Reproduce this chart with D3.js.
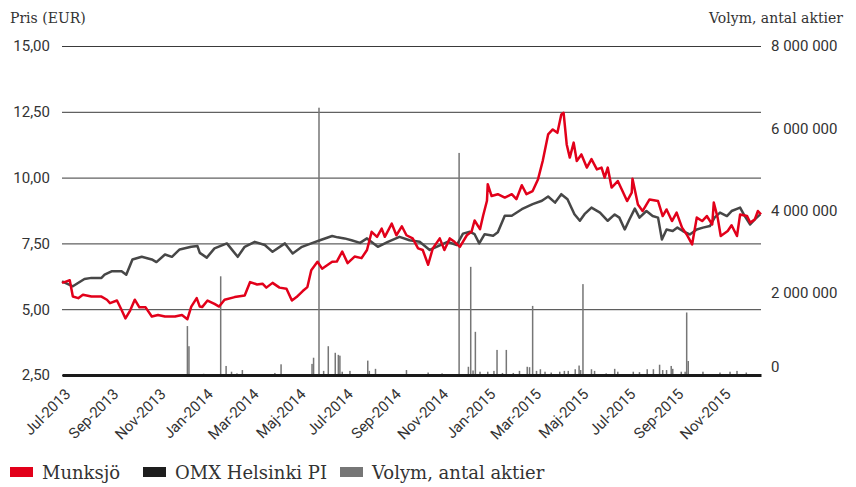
<!DOCTYPE html>
<html lang="sv">
<head>
  <meta charset="UTF-8">
  <title>Munksjö</title>
  <style>
    body { margin: 0; background: #fff; }
  </style>
</head>
<body>

  <svg id="svg" width="856" height="487"></svg>

  <script src="https://d3js.org/d3.v7.min.js"></script>
  <script>

    // Munksjö, pris (EUR)
    const munksjo = [
      ['2013-07-01',6.00],['2013-07-06',6.05],['2013-07-11',6.10],['2013-07-15',5.48],['2013-07-22',5.42],['2013-07-28',5.55],
      ['2013-08-08',5.48],['2013-08-21',5.48],['2013-08-28',5.36],['2013-09-01',5.23],['2013-09-10',5.33],['2013-09-16',4.97],
      ['2013-09-21',4.65],['2013-09-27',4.95],['2013-10-03',5.36],['2013-10-09',5.07],['2013-10-17',5.07],['2013-10-25',4.72],
      ['2013-11-02',4.78],['2013-11-11',4.72],['2013-11-24',4.72],['2013-12-03',4.78],['2013-12-10',4.62],['2013-12-15',5.10],
      ['2013-12-22',5.42],['2013-12-26',5.10],['2013-12-29',5.08],['2014-01-05',5.33],['2014-01-14',5.20],['2014-01-20',5.10],
      ['2014-01-27',5.36],['2014-02-09',5.46],['2014-02-22',5.52],['2014-03-01',6.03],['2014-03-10',5.94],['2014-03-17',5.97],
      ['2014-03-22',5.82],['2014-03-30',6.00],['2014-04-08',5.82],['2014-04-17',5.78],['2014-04-24',5.33],['2014-04-30',5.46],
      ['2014-05-08',5.69],['2014-05-14',5.84],['2014-05-19',6.48],['2014-05-27',6.80],['2014-06-02',6.54],['2014-06-15',6.80],
      ['2014-06-21',6.81],['2014-06-28',7.19],['2014-07-05',6.75],['2014-07-14',7.00],['2014-07-23',6.94],['2014-07-30',7.25],
      ['2014-08-05',7.94],['2014-08-12',7.75],['2014-08-18',8.06],['2014-08-22',7.75],['2014-08-31',8.25],['2014-09-06',7.81],
      ['2014-09-13',8.15],['2014-09-19',7.81],['2014-09-27',7.69],['2014-10-04',7.31],['2014-10-10',7.25],['2014-10-17',6.69],
      ['2014-10-23',7.31],['2014-11-01',7.69],['2014-11-07',7.25],['2014-11-14',7.69],['2014-11-20',7.56],['2014-11-27',7.37],
      ['2014-12-06',7.81],['2014-12-12',7.94],['2014-12-16',8.37],['2014-12-23',8.04],['2014-12-27',8.55],['2015-01-01',9.12],
      ['2015-01-02',9.75],['2015-01-07',9.30],['2015-01-15',9.37],['2015-01-24',9.24],['2015-02-02',9.37],['2015-02-08',9.18],
      ['2015-02-15',9.71],['2015-02-21',9.37],['2015-03-01',9.49],['2015-03-08',9.94],['2015-03-14',10.63],['2015-03-21',11.64],
      ['2015-03-27',11.83],['2015-04-02',11.70],['2015-04-07',12.40],['2015-04-10',12.46],['2015-04-14',11.26],['2015-04-18',10.76],
      ['2015-04-23',11.33],['2015-04-27',10.63],['2015-05-03',10.88],['2015-05-10',10.38],['2015-05-16',10.70],['2015-05-23',10.31],
      ['2015-05-29',10.38],['2015-06-02',10.00],['2015-06-06',10.38],['2015-06-11',9.62],['2015-06-19',9.87],['2015-06-24',9.56],
      ['2015-07-01',9.11],['2015-07-07',9.43],['2015-07-08',9.96],['2015-07-15',8.98],['2015-07-21',8.73],['2015-07-30',9.17],
      ['2015-08-10',9.11],['2015-08-16',8.54],['2015-08-21',8.79],['2015-08-28',8.35],['2015-09-03',8.67],['2015-09-10',8.10],
      ['2015-09-16',7.84],['2015-09-23',7.46],['2015-09-29',8.48],['2015-10-06',8.35],['2015-10-12',8.54],['2015-10-19',8.22],
      ['2015-10-21',9.05],['2015-10-26',8.48],['2015-10-30',7.78],['2015-11-08',7.97],['2015-11-13',8.19],['2015-11-20',7.78],
      ['2015-11-24',8.60],['2015-12-03',8.54],['2015-12-07',8.29],['2015-12-13',8.41],['2015-12-17',8.73],['2015-12-21',8.60]
    ]

    // OMX Helsinki PI, omräknat till prisskalan
    const omx = [
      ['2013-07-01',6.06],['2013-07-15',5.87],['2013-07-30',6.15],['2013-08-08',6.19],['2013-08-21',6.19],['2013-08-25',6.31],
      ['2013-09-03',6.44],['2013-09-16',6.44],['2013-09-22',6.31],['2013-09-30',6.89],['2013-10-12',6.99],['2013-10-25',6.89],
      ['2013-10-31',6.79],['2013-11-11',7.08],['2013-11-20',6.99],['2013-11-30',7.27],['2013-12-15',7.37],['2013-12-23',7.40],
      ['2013-12-26',7.14],['2014-01-04',6.96],['2014-01-14',7.31],['2014-01-30',7.50],['2014-02-13',6.99],['2014-02-22',7.37],
      ['2014-03-07',7.56],['2014-03-20',7.44],['2014-03-30',7.18],['2014-04-15',7.50],['2014-04-25',7.12],['2014-05-07',7.37],
      ['2014-05-19',7.50],['2014-06-02',7.65],['2014-06-15',7.78],['2014-06-22',7.73],['2014-07-01',7.69],['2014-07-10',7.62],
      ['2014-07-21',7.52],['2014-07-30',7.69],['2014-08-13',7.37],['2014-08-26',7.56],['2014-09-10',7.75],['2014-09-23',7.62],
      ['2014-10-06',7.56],['2014-10-19',7.25],['2014-10-30',7.40],['2014-11-11',7.56],['2014-11-23',7.44],['2014-12-01',7.87],
      ['2014-12-10',7.94],['2014-12-16',7.85],['2014-12-22',7.50],['2014-12-29',7.85],['2015-01-09',7.79],['2015-01-15',7.92],
      ['2015-01-24',8.55],['2015-02-02',8.55],['2015-02-15',8.80],['2015-03-01',8.99],['2015-03-13',9.12],['2015-03-21',9.28],
      ['2015-03-30',9.05],['2015-04-07',9.37],['2015-04-15',9.18],['2015-04-24',8.61],['2015-05-01',8.36],['2015-05-07',8.61],
      ['2015-05-16',8.86],['2015-05-27',8.67],['2015-06-06',8.36],['2015-06-15',8.60],['2015-06-21',8.48],['2015-06-28',8.03],
      ['2015-07-04',8.41],['2015-07-11',8.82],['2015-07-17',8.48],['2015-07-26',8.73],['2015-08-03',8.54],['2015-08-10',8.48],
      ['2015-08-15',7.65],['2015-08-21',8.03],['2015-08-29',7.97],['2015-09-04',8.10],['2015-09-11',7.97],['2015-09-20',7.84],
      ['2015-09-29',8.03],['2015-10-07',8.10],['2015-10-16',8.16],['2015-10-22',8.48],['2015-10-29',8.67],['2015-11-07',8.54],
      ['2015-11-13',8.73],['2015-11-24',8.86],['2015-11-30',8.54],['2015-12-07',8.22],['2015-12-13',8.41],['2015-12-20',8.60]
    ]

    // Volym, antal aktier
    const volym = [
      ['2013-12-10',1190000],['2013-12-12',700000],['2013-12-31',30000],['2014-01-22',2400000],['2014-01-29',220000],
      ['2014-02-05',80000],['2014-02-12',40000],['2014-02-19',120000],['2014-04-02',50000],['2014-04-10',260000],
      ['2014-05-20',270000],['2014-05-22',420000],['2014-05-29',6500000],['2014-06-04',100000],['2014-06-10',700000],
      ['2014-06-19',540000],['2014-06-23',490000],['2014-06-25',470000],['2014-06-28',80000],['2014-07-08',100000],
      ['2014-07-31',350000],['2014-08-02',100000],['2014-08-10',150000],['2014-08-24',20000],['2014-09-19',120000],
      ['2014-10-17',60000],['2014-11-04',40000],['2014-11-26',5400000],['2014-12-08',200000],['2014-12-11',2630000],
      ['2014-12-14',110000],['2014-12-17',1050000],['2014-12-23',80000],['2015-01-02',80000],['2015-01-10',100000],
      ['2015-01-14',610000],['2015-01-21',50000],['2015-01-26',610000],['2015-02-04',50000],['2015-02-12',100000],
      ['2015-02-22',200000],['2015-02-25',190000],['2015-03-01',1680000],['2015-03-06',100000],['2015-03-11',140000],
      ['2015-03-17',80000],['2015-03-25',60000],['2015-04-05',80000],['2015-04-11',100000],['2015-04-16',100000],
      ['2015-04-25',140000],['2015-04-30',230000],['2015-05-02',120000],['2015-05-05',2210000],['2015-05-16',140000],
      ['2015-05-20',100000],['2015-06-04',40000],['2015-06-15',150000],['2015-06-19',80000],['2015-07-09',80000],
      ['2015-07-17',70000],['2015-07-27',140000],['2015-08-04',140000],['2015-08-12',250000],['2015-08-16',120000],
      ['2015-08-21',120000],['2015-08-27',220000],['2015-08-29',150000],['2015-09-09',80000],['2015-09-14',80000],
      ['2015-09-16',1520000],['2015-09-18',340000],['2015-10-07',80000],['2015-10-29',60000],['2015-11-11',80000],
      ['2015-11-20',100000],['2015-12-02',60000]
    ]

    const priceTicks = [2.5, 5, 7.5, 10, 12.5, 15]
    const volTicks = [0, 2000000, 4000000, 6000000, 8000000]
    const xTicks = ['2013-07-01','2013-09-01','2013-11-01','2014-01-01','2014-03-01','2014-05-01','2014-07-01',
      '2014-09-01','2014-11-01','2015-01-01','2015-03-01','2015-05-01','2015-07-01','2015-09-01','2015-11-01']
    const monthNames = ['Jan','Feb','Mar','Apr','Maj','Jun','Jul','Aug','Sep','Okt','Nov','Dec']

    const legendItems = [
      { label: 'Munksjö', color: '#e2001a' },
      { label: 'OMX Helsinki PI', color: '#1e1e1e' },
      { label: 'Volym, antal aktier', color: '#767676' }
    ]

    const parse = d3.timeParse('%Y-%m-%d')
    const svg = d3.select('#svg')

    const xScale = d3.scaleTime()
      .domain([parse('2013-07-01'), parse('2015-12-21')])
      .range([62, 761])

    const yScale = d3.scaleLinear()
      .domain([2.5, 15])
      .range([375, 46])

    const volScale = d3.scaleLinear()
      .domain([0, 8000000])
      .range([375, 46])

    // gridlines + left labels
    const yAxis = svg.append('g')
      .attr('transform', 'translate(62,0)')
      .call(d3.axisLeft(yScale)
        .tickValues(priceTicks)
        .tickSize(-699)
        .tickPadding(12)
        .tickFormat(d => d3.format('.2f')(d).replace('.', ',')))
    yAxis.select('.domain').remove()
    yAxis.selectAll('line').attr('stroke', '#3a3a3a')
    yAxis.selectAll('text').attr('fill', '#333').style('font', '15px Roboto')

    // right labels
    const vAxis = svg.append('g')
      .attr('transform', 'translate(761,0)')
      .call(d3.axisRight(volScale)
        .tickValues(volTicks)
        .tickSize(0)
        .tickPadding(10)
        .tickFormat(d => d3.format(',')(d).replace(/,/g, ' ')))
    vAxis.select('.domain').remove()
    vAxis.selectAll('text').attr('fill', '#333').style('font', '15px Roboto')
      .filter(d => d === 0).attr('y', -8)

    // volume bars
    svg.append('g')
      .selectAll('rect')
      .data(volym)
      .join('rect')
      .attr('x', d => xScale(parse(d[0])) - 0.75)
      .attr('width', 1.5)
      .attr('y', d => volScale(d[1]))
      .attr('height', d => volScale(0) - volScale(d[1]))
      .attr('fill', '#767676')

    const line = d3.line()
      .x(d => xScale(parse(d[0])))
      .y(d => yScale(d[1]))

    svg.append('path')
      .datum(omx)
      .attr('d', line)
      .attr('fill', 'none')
      .attr('stroke', '#474747')
      .attr('stroke-width', 2.5)
      .attr('stroke-linejoin', 'round')

    svg.append('path')
      .datum(munksjo)
      .attr('d', line)
      .attr('fill', 'none')
      .attr('stroke', '#e2001a')
      .attr('stroke-width', 2.5)
      .attr('stroke-linejoin', 'round')

    // x axis with thick baseline
    const xAxis = svg.append('g')
      .attr('transform', 'translate(0,375)')
      .call(d3.axisBottom(xScale)
        .tickValues(xTicks.map(parse))
        .tickSize(0)
        .tickSizeOuter(0)
        .tickFormat(d => monthNames[d.getMonth()] + '-' + d.getFullYear()))
    xAxis.select('.domain').attr('stroke', '#1a1a1a').attr('stroke-width', 3)
    xAxis.selectAll('text')
      .attr('y', 0)
      .attr('dy', 0)
      .attr('text-anchor', 'end')
      .attr('transform', 'translate(9,20) rotate(-45)')
      .attr('fill', '#333')
      .style('font', '15px Roboto')

    // titles
    svg.append('text')
      .attr('x', 10).attr('y', 23)
      .attr('fill', '#333')
      .style('font', '14px "DejaVu Serif"')
      .text('Pris (EUR)')
    svg.append('text')
      .attr('x', 843).attr('y', 23)
      .attr('text-anchor', 'end')
      .attr('fill', '#333')
      .style('font', '14px "DejaVu Serif"')
      .text('Volym, antal aktier')

    // legend
    const legendX = [10, 143, 340]
    const legend = svg.append('g')
      .selectAll('g')
      .data(legendItems)
      .join('g')
      .attr('transform', (d, i) => `translate(${legendX[i]},0)`)
    legend.append('rect')
      .attr('x', 0).attr('y', 467)
      .attr('width', 23).attr('height', 10)
      .attr('fill', d => d.color)
    legend.append('text')
      .attr('x', 32).attr('y', 479)
      .attr('fill', '#333')
      .style('font', '18px "DejaVu Serif"')
      .text(d => d.label)

  </script>
</body>
</html>
